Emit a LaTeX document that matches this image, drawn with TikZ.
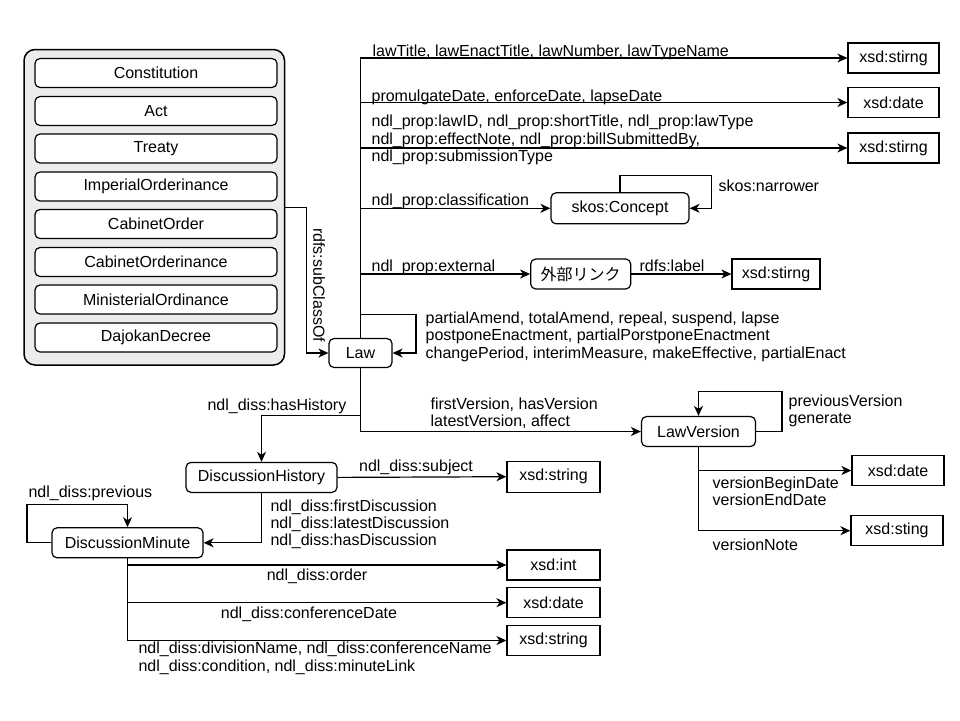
\documentclass[tikz,border=0pt]{standalone}
\usepackage{fontspec}
\setmainfont{Liberation Sans}
\newfontfamily\jpfont{Noto Sans CJK JP}
\usetikzlibrary{arrows.meta}
\begin{document}
\begin{tikzpicture}[x=1pt,y=-1pt,
  line width=1.2pt,
  every node/.style={font=\fontsize{16}{17.5}\selectfont},
  cls/.style={draw, rounded corners=5pt, fill=white, minimum height=30pt, inner sep=0pt},
  lit/.style={draw, fill=white, minimum height=30pt, inner sep=0pt},
  arr/.style={-{Stealth[length=10pt,width=9pt,inset=3pt]}},
  lbl/.style={anchor=base west, inner sep=0pt, align=left},
]
\useasboundingbox (0,0) rectangle (960,720);

% group of law types
\node[draw, line width=1.5pt, rounded corners=11pt, fill=gray!15,
      minimum width=260.5pt, minimum height=315.5pt, inner sep=0pt] (grp) at (154.25,207.25) {};
\node[cls, minimum width=242pt, minimum height=29pt] (t1) at (156,73) {Constitution};
\node[cls, minimum width=242pt, minimum height=29pt] (t2) at (156,111) {Act};
\node[cls, minimum width=242pt, minimum height=29pt] (t3) at (156,148.5) {Treaty};
\node[cls, minimum width=242pt, minimum height=29pt] (t4) at (156,186.5) {ImperialOrderinance};
\node[cls, minimum width=242pt, minimum height=29pt] (t5) at (156,224) {CabinetOrder};
\node[cls, minimum width=242pt, minimum height=29pt] (t6) at (156,262) {CabinetOrderinance};
\node[cls, minimum width=242pt, minimum height=29pt] (t7) at (156,299.5) {MinisterialOrdinance};
\node[cls, minimum width=242pt, minimum height=29pt] (t8) at (156,337.5) {DajokanDecree};

% main classes
\node[cls, minimum width=63pt, minimum height=29pt] (law) at (360.5,353) {Law};
\node[lit, minimum width=91pt] (s1) at (893.5,58) {xsd:stirng};
\node[lit, minimum width=91pt] (d1) at (893.5,102.5) {xsd:date};
\node[lit, minimum width=91pt] (s2) at (893.5,148) {xsd:stirng};
\node[cls, minimum width=138pt, minimum height=31pt] (concept) at (620,208.3) {skos:Concept};
\node[cls, minimum width=100pt] (ext) at (580.7,274) {\jpfont 外部リンク};
\node[lit, minimum width=88pt] (s4) at (776,274) {xsd:stirng};
\node[cls, minimum width=114pt] (lv) at (698.5,431.5) {LawVersion};
\node[lit, minimum width=92pt] (d2) at (898,470.5) {xsd:date};
\node[lit, minimum width=92pt] (s5) at (897,530.7) {xsd:sting};
\node[cls, minimum width=151pt] (dh) at (261.5,477.4) {DiscussionHistory};
\node[lit, minimum width=93pt, minimum height=31pt] (ss) at (553.5,476.7) {xsd:string};
\node[cls, minimum width=151pt] (dm) at (127.5,542.8) {DiscussionMinute};
\node[lit, minimum width=93pt] (i1) at (553.5,565) {xsd:int};
\node[lit, minimum width=93pt] (d3) at (553.5,602.7) {xsd:date};
\node[lit, minimum width=93pt] (s6) at (553.5,640.5) {xsd:string};

% helper coordinates
\coordinate (sc) at (306.7,280);
\coordinate (lp) at (416,314.3);
\coordinate (cl) at (711.7,175.7);
\coordinate (hh) at (261.5,415.3);
\coordinate (lvl) at (782,391.7);
\coordinate (dml) at (27,504.3);

% subclass
\draw[arr] (grp.east) -| (sc) |- (law.west);
\node[rotate=-90, inner sep=0pt] (lsub) at (319,285) {rdfs:subClassOf};

% edges from Law upward
\draw[arr] (law.north) |- (s1.west);
\node[lbl] (l1) at (372,56.7) {lawTitle, lawEnactTitle, lawNumber, lawTypeName};
\draw[arr] (law.north) |- (d1.west);
\node[lbl] (l2) at (371,101.7) {promulgateDate, enforceDate, lapseDate};
\draw[arr] (law.north) |- (s2.west);
\node[lbl] (l3) at (371,161.5) {ndl\_prop:lawID, ndl\_prop:shortTitle, ndl\_prop:lawType\\ndl\_prop:effectNote, ndl\_prop:billSubmittedBy,\\ndl\_prop:submissionType};
\draw[arr] (law.north) |- (concept.west);
\node[lbl] (l4) at (371,205) {ndl\_prop:classification};
\draw[arr] (concept.north) |- (cl) |- (concept.east);
\node[lbl] (l5) at (718,191.7) {skos:narrower};
\draw[arr] (law.north) |- (ext.west);
\node[lbl] (l6) at (371,271.7) {ndl\_prop:external};
\draw[arr] (ext.east) -- (s4.west);
\node[lbl] (l7) at (639,271.7) {rdfs:label};
\draw[arr] (law.north) |- (lp) |- (law.east);
\node[lbl] (l8) at (425,358) {partialAmend, totalAmend, repeal, suspend, lapse\\postponeEnactment, partialPorstponeEnactment\\changePeriod, interimMeasure, makeEffective, partialEnact};

% edges from Law downward
\draw[arr] (law.south) |- (hh) -- (dh.north);
\node[lbl] (l9) at (207,410) {ndl\_diss:hasHistory};
\draw[arr] (law.south) |- (lv.west);
\node[lbl] (l10) at (430,426.5) {firstVersion, hasVersion\\latestVersion, affect};
\draw[arr] (lv.east) -| (lvl) -| (lv.north);
\node[lbl] (l11) at (788,423.5) {previousVersion\\generate};
\draw[arr] (lv.south) |- (d2.west);
\node[lbl] (l12) at (712,505.5) {versionBeginDate\\versionEndDate};
\draw[arr] (lv.south) |- (s5.west);
\node[lbl] (l13) at (712,550) {versionNote};

% discussion
\draw[arr] (dh.east) -- (ss.west);
\node[lbl] (l14) at (358.5,471.7) {ndl\_diss:subject};
\draw[arr] (dh.south) |- (dm.east);
\node[lbl, font=\fontsize{16}{17}\selectfont] (l15) at (270,545) {ndl\_diss:firstDiscussion\\ndl\_diss:latestDiscussion\\ndl\_diss:hasDiscussion};
\draw[arr] (dm.west) -| (dml) -| (dm.north);
\node[lbl] (l16) at (28,497) {ndl\_diss:previous};
\draw[arr] (dm.south) |- (i1.west);
\node[anchor=base, inner sep=0pt] (l17) at (317,580) {ndl\_diss:order};
\draw[arr] (dm.south) |- (d3.west);
\node[anchor=base, inner sep=0pt] (l18) at (309,618.3) {ndl\_diss:conferenceDate};
\draw[arr] (dm.south) |- (s6.west);
\node[lbl, font=\fontsize{16}{18}\selectfont] (l19) at (138,671.3) {ndl\_diss:divisionName, ndl\_diss:conferenceName\\ndl\_diss:condition, ndl\_diss:minuteLink};
\end{tikzpicture}
\end{document}
